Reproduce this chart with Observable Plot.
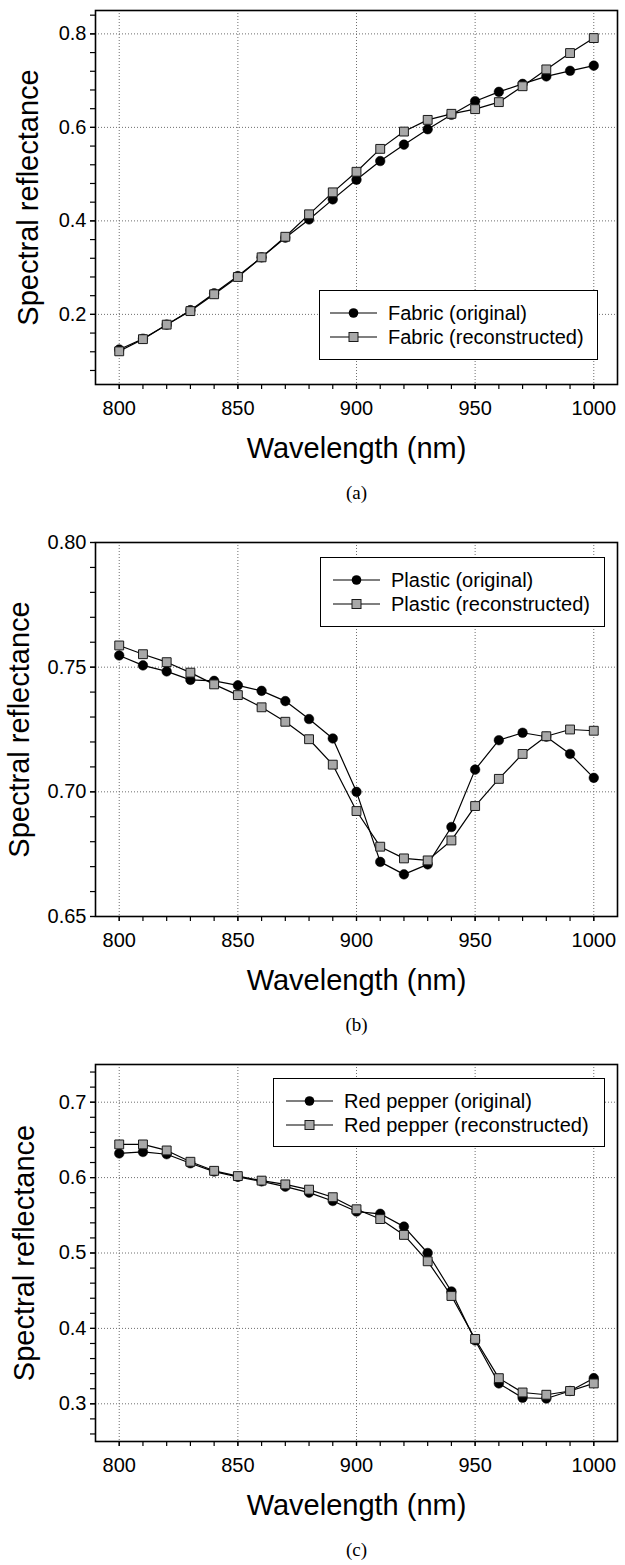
<!DOCTYPE html>
<html>
<head>
<meta charset="utf-8">
<script src="https://cdn.jsdelivr.net/npm/d3@7"></script>
<script src="https://cdn.jsdelivr.net/npm/@observablehq/plot@0.6"></script>
<style>
  html, body { margin: 0; padding: 0; background: #fff; }
  #page { position: relative; width: 625px; height: 1565px; overflow: hidden;
          font-family: "Liberation Sans", Arial, sans-serif; color: #000; }
  .panel { position: absolute; left: 0; width: 625px; }
  .panel svg { display: block; }
  .legend { position: absolute; box-sizing: border-box; border: 1.5px solid #000;
            background: #fff; padding-top: 10px; }
  .legend .row { display: flex; align-items: center; height: 24px; white-space: nowrap;
                 font-size: 20px; line-height: 24px; }
  .legend .row svg { flex: none; margin-right: 11px; }
</style>
</head>
<body>
<div id="page"></div>
<script>
// Wavelength samples (nm)
const wavelength = [800, 810, 820, 830, 840, 850, 860, 870, 880, 890, 900,
                    910, 920, 930, 940, 950, 960, 970, 980, 990, 1000];

// (a) Fabric
const fabricOriginal = [0.125, 0.148, 0.178, 0.209, 0.245, 0.282, 0.322, 0.364, 0.403, 0.446, 0.488,
                        0.528, 0.563, 0.596, 0.627, 0.656, 0.676, 0.693, 0.709, 0.721, 0.732];
const fabricReconstructed = [0.121, 0.147, 0.178, 0.207, 0.243, 0.280, 0.322, 0.366, 0.414, 0.461, 0.505,
                             0.554, 0.591, 0.616, 0.629, 0.639, 0.654, 0.688, 0.724, 0.759, 0.791];

// (b) Plastic
const plasticOriginal = [0.7547, 0.7507, 0.7483, 0.7449, 0.7445, 0.7427, 0.7405, 0.7364, 0.7292, 0.7214, 0.7000,
                         0.6719, 0.6669, 0.6709, 0.6859, 0.7089, 0.7207, 0.7237, 0.7221, 0.7152, 0.7056];
const plasticReconstructed = [0.7587, 0.7552, 0.7520, 0.7478, 0.7431, 0.7388, 0.7339, 0.7281, 0.7211, 0.7109, 0.6923,
                              0.6780, 0.6733, 0.6725, 0.6805, 0.6943, 0.7052, 0.7152, 0.7223, 0.7250, 0.7245];

// (c) Red pepper
const pepperOriginal = [0.632, 0.634, 0.631, 0.619, 0.608, 0.601, 0.595, 0.588, 0.580, 0.569, 0.555,
                        0.552, 0.535, 0.500, 0.449, 0.384, 0.327, 0.308, 0.307, 0.317, 0.334];
const pepperReconstructed = [0.644, 0.644, 0.636, 0.621, 0.609, 0.602, 0.596, 0.591, 0.584, 0.574, 0.558,
                             0.545, 0.524, 0.489, 0.443, 0.386, 0.334, 0.315, 0.312, 0.317, 0.327];

// Tick values
const xTickLabels = [800, 850, 900, 950, 1000];
const xMinorTicks = d3.range(800, 1001, 10);
const fabricYTicks = [0.2, 0.4, 0.6, 0.8];
const plasticYTicks = [0.65, 0.70, 0.75, 0.80];
const pepperYTicks = [0.3, 0.4, 0.5, 0.6, 0.7];

const xTitle = "Wavelength (nm)";
const yTitle = "Spectral reflectance";

const panels = [
  {
    caption: "(a)", name: "Fabric",
    original: fabricOriginal, reconstructed: fabricReconstructed,
    yDomain: [0.05, 0.85], yTicks: fabricYTicks, yMinor: d3.range(2, 22).map(k => k * 0.04),
    yFormat: ".1f", top: 0, frameH: 374, titleDx: -67,
    legend: {left: 319, top: 290, width: 279, height: 70, pad: 10}
  },
  {
    caption: "(b)", name: "Plastic",
    original: plasticOriginal, reconstructed: plasticReconstructed,
    yDomain: [0.65, 0.80], yTicks: plasticYTicks, yMinor: d3.range(65, 81).map(k => k / 100),
    yFormat: ".2f", top: 532, frameH: 374, titleDx: -76,
    legend: {left: 320, top: 25, width: 285, height: 70, pad: 12}
  },
  {
    caption: "(c)", name: "Red pepper",
    original: pepperOriginal, reconstructed: pepperReconstructed,
    yDomain: [0.25, 0.75], yTicks: pepperYTicks, yMinor: d3.range(13, 38).map(k => k * 0.02),
    yFormat: ".1f", top: 1054, frameH: 377, titleDx: -71,
    legend: {left: 273, top: 24, width: 332, height: 69, pad: 12}
  }
];

const SQUARE_FILL = "#a8a8a8";
const SQUARE_STROKE = "#1a1a1a";
const GRID = {stroke: "#6e6e6e", strokeOpacity: 1, strokeWidth: 1, strokeDasharray: "1,2"};

function drawPanel(p) {
  const orig = wavelength.map((w, i) => ({w, v: p.original[i]}));
  const rec = wavelength.map((w, i) => ({w, v: p.reconstructed[i]}));
  const marginTop = 10, marginBottom = 124;

  const chart = Plot.plot({
    width: 625,
    height: marginTop + p.frameH + marginBottom,
    marginLeft: 95, marginRight: 8, marginTop, marginBottom,
    style: {fontFamily: "'Liberation Sans', Arial, sans-serif", color: "#000", background: "#fff", overflow: "visible"},
    x: {domain: [790, 1010]},
    y: {domain: p.yDomain},
    marks: [
      Plot.gridX(xTickLabels, GRID),
      Plot.gridY(p.yTicks, GRID),
      Plot.axisX({ticks: xMinorTicks, tickSize: 5, tickFormat: () => "", label: null, strokeWidth: 1.2}),
      Plot.axisX({ticks: xTickLabels, tickSize: 5, tickPadding: 11, fontSize: 20, label: null,
                  strokeWidth: 1.2, tickFormat: d => String(d)}),
      Plot.axisY({ticks: p.yMinor, tickSize: 5, tickFormat: () => "", label: null, strokeWidth: 1.2}),
      Plot.axisY({ticks: p.yTicks, tickSize: 5, tickPadding: 4, fontSize: 20, label: null,
                  strokeWidth: 1.2, tickFormat: d3.format(p.yFormat)}),
      Plot.line(orig, {x: "w", y: "v", stroke: "#000", strokeWidth: 1.2}),
      Plot.dot(orig, {x: "w", y: "v", r: 4.8, fill: "#000", stroke: "#000", strokeWidth: 0.5}),
      Plot.line(rec, {x: "w", y: "v", stroke: "#000", strokeWidth: 1.2}),
      Plot.dot(rec, {x: "w", y: "v", symbol: "square", r: 5, fill: SQUARE_FILL, stroke: SQUARE_STROKE, strokeWidth: 1}),
      Plot.frame({stroke: "#000", strokeWidth: 1.6}),
      Plot.text([xTitle], {text: d => d, frameAnchor: "bottom", dy: 64, fontSize: 29, fill: "#000",
                           textAnchor: "middle", lineAnchor: "middle"}),
      Plot.text([yTitle], {text: d => d, frameAnchor: "left", dx: p.titleDx, rotate: -90, fontSize: 29, fill: "#000",
                           textAnchor: "middle", lineAnchor: "middle"}),
      Plot.text([p.caption], {text: d => d, frameAnchor: "bottom", dy: 108, fontSize: 19, fill: "#000",
                              textAnchor: "middle", lineAnchor: "middle",
                              fontFamily: "'Liberation Serif', 'Times New Roman', serif"})
    ]
  });

  const wrap = document.createElement("div");
  wrap.className = "panel";
  wrap.style.top = p.top + "px";
  wrap.appendChild(chart);

  // Legend box inside the plot area
  const L = p.legend;
  const box = document.createElement("div");
  box.className = "legend";
  Object.assign(box.style, {left: L.left + "px", top: L.top + "px", width: L.width + "px",
                            height: L.height + "px", paddingLeft: L.pad + "px"});
  const entries = [
    {label: `${p.name} (original)`,
     marker: `<circle cx="23.5" cy="12" r="4.8" fill="#000"/>`},
    {label: `${p.name} (reconstructed)`,
     marker: `<rect x="19" y="7.5" width="9" height="9" fill="${SQUARE_FILL}" stroke="${SQUARE_STROKE}" stroke-width="1"/>`}
  ];
  for (const e of entries) {
    const row = document.createElement("div");
    row.className = "row";
    row.innerHTML = `<svg width="47" height="24" viewBox="0 0 47 24">
        <line x1="0" y1="12" x2="47" y2="12" stroke="#000" stroke-width="1.2"/>${e.marker}</svg>`;
    const span = document.createElement("span");
    span.textContent = e.label;
    row.appendChild(span);
    box.appendChild(row);
  }
  wrap.appendChild(box);
  return wrap;
}

const page = document.getElementById("page");
for (const p of panels) page.appendChild(drawPanel(p));
</script>
</body>
</html>
